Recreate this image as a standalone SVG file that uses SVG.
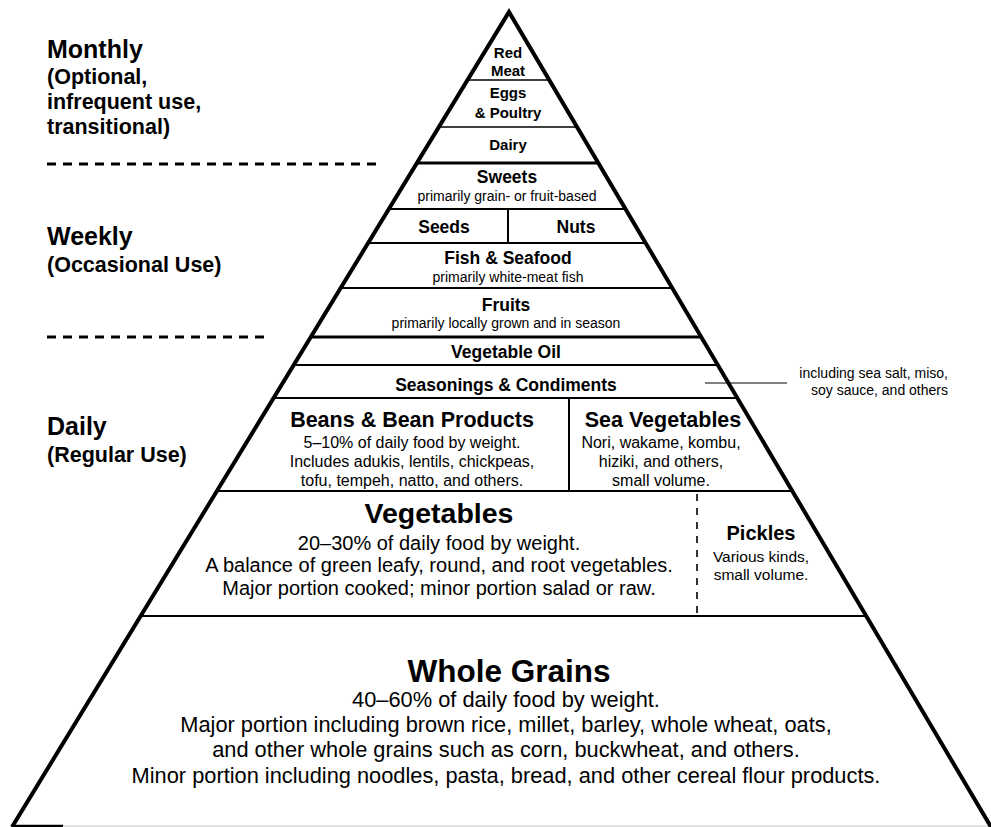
<svg xmlns="http://www.w3.org/2000/svg" width="991" height="827" viewBox="0 0 991 827">
<defs>
<style>
text{font-family:"Liberation Sans",Arial,Helvetica,sans-serif;fill:#000;}
.t{text-anchor:middle;}
.b{font-weight:bold;}
.hd{font-weight:bold;font-size:25px;}
.sub{font-weight:bold;font-size:21.5px;}
.s15{font-size:15px;font-weight:bold;}
.m{font-size:17.5px;font-weight:bold;}
.sm{font-size:14px;}
.l{font-size:21.5px;font-weight:bold;}
.r16{font-size:16px;}
.r20{font-size:20px;}
.r21{font-size:21.8px;}
.edge{stroke:#000;stroke-width:4;fill:none;stroke-linejoin:miter;}
.h1{stroke:#000;stroke-width:1.5;}
.h2{stroke:#000;stroke-width:2;}
.h3{stroke:#000;stroke-width:3.2;}
.sep{stroke:#000;stroke-width:3;stroke-dasharray:9 7;}
</style>
</defs>
<rect width="991" height="827" fill="#fff"/>

<g id="frequency-labels">
<text class="hd" x="47" y="58">Monthly</text>
<text class="sub" x="47" y="84">(Optional,</text>
<text class="sub" x="47" y="109">infrequent use,</text>
<text class="sub" x="47" y="134">transitional)</text>
<line class="sep" x1="47" y1="164" x2="377" y2="164"/>
<text class="hd" x="47" y="245">Weekly</text>
<text class="sub" x="47" y="272">(Occasional Use)</text>
<line class="sep" x1="47" y1="337" x2="265" y2="337"/>
<text class="hd" x="47" y="435">Daily</text>
<text class="sub" x="47" y="462">(Regular Use)</text>
</g>

<g id="pyramid-frame">
<line class="h1" x1="467.5" y1="80" x2="549.2" y2="80"/>
<line class="h1" x1="438.8" y1="127" x2="577" y2="127"/>
<line class="h3" x1="416.8" y1="163" x2="598.3" y2="163"/>
<line class="h2" x1="388.7" y1="209" x2="625.5" y2="209"/>
<line class="h2" x1="368" y1="243" x2="645.6" y2="243"/>
<line class="h2" x1="340.5" y1="288" x2="672.2" y2="288"/>
<line class="h3" x1="310.6" y1="337" x2="701.2" y2="337"/>
<line class="h2" x1="293.5" y1="365" x2="717.8" y2="365"/>
<line class="h2" x1="273.3" y1="398" x2="737.3" y2="398"/>
<line class="h2" x1="216.5" y1="491" x2="792.3" y2="491"/>
<line class="h2" x1="140.2" y1="616" x2="866.2" y2="616"/>
<line class="h2" x1="508" y1="209" x2="508" y2="243"/>
<line class="h2" x1="569" y1="398" x2="569" y2="491"/>
<line stroke="#000" stroke-width="1.6" stroke-dasharray="7 7" x1="697" y1="494" x2="697" y2="614"/>
<line stroke="#000" stroke-width="2.5" x1="12" y1="826" x2="63" y2="826"/>
<line stroke="#c8c8c8" stroke-width="1" x1="63" y1="826" x2="991" y2="826"/>
<polyline class="edge" points="12,827 509,12 991,827"/>
</g>

<g id="red-meat">
<text class="t s15" x="508" y="58">Red</text>
<text class="t s15" x="508" y="76">Meat</text>
</g>
<g id="eggs-poultry">
<text class="t s15" x="508" y="98">Eggs</text>
<text class="t s15" x="508" y="118">&amp; Poultry</text>
</g>
<g id="dairy">
<text class="t s15" x="508" y="150">Dairy</text>
</g>
<g id="sweets">
<text class="t m" x="507" y="183">Sweets</text>
<text class="t sm" x="507" y="201">primarily grain- or fruit-based</text>
</g>
<g id="seeds">
<text class="t m" x="444" y="233">Seeds</text>
</g>
<g id="nuts">
<text class="t m" x="576" y="233">Nuts</text>
</g>
<g id="fish-seafood">
<text class="t m" x="508" y="264">Fish &amp; Seafood</text>
<text class="t sm" x="508" y="282">primarily white-meat fish</text>
</g>
<g id="fruits">
<text class="t m" x="506" y="311">Fruits</text>
<text class="t sm" x="506" y="328">primarily locally grown and in season</text>
</g>
<g id="vegetable-oil">
<text class="t m" x="506" y="358">Vegetable Oil</text>
</g>
<g id="seasonings">
<text class="t m" x="506" y="391">Seasonings &amp; Condiments</text>
</g>
<g id="seasonings-note">
<text text-anchor="end" x="948" y="378" style="font-size:14px">including sea salt, miso,</text>
<text text-anchor="end" x="948" y="395" style="font-size:14px">soy sauce, and others</text>
</g>
<g id="beans">
<text class="t l" x="412" y="427">Beans &amp; Bean Products</text>
<text class="t r16" x="412" y="448">5–10% of daily food by weight.</text>
<text class="t r16" x="412" y="467">Includes adukis, lentils, chickpeas,</text>
<text class="t r16" x="412" y="486">tofu, tempeh, natto, and others.</text>
</g>
<g id="sea-vegetables">
<text class="t l" x="663" y="427">Sea Vegetables</text>
<text class="t r16" x="661" y="448">Nori, wakame, kombu,</text>
<text class="t r16" x="661" y="467">hiziki, and others,</text>
<text class="t r16" x="661" y="486">small volume.</text>
</g>
<g id="vegetables">
<text class="t b" x="439" y="523" style="font-size:28.5px">Vegetables</text>
<text class="t r20" x="439" y="550">20–30% of daily food by weight.</text>
<text class="t r20" x="439" y="572">A balance of green leafy, round, and root vegetables.</text>
<text class="t r20" x="439" y="595">Major portion cooked; minor portion salad or raw.</text>
</g>
<g id="pickles">
<text class="t b" x="761" y="540" style="font-size:20px">Pickles</text>
<text class="t" x="761" y="562" style="font-size:15.5px">Various kinds,</text>
<text class="t" x="761" y="580" style="font-size:15.5px">small volume.</text>
</g>
<g id="whole-grains">
<text class="t b" x="509" y="682" style="font-size:31.5px">Whole Grains</text>
<text class="t r21" x="506" y="707">40–60% of daily food by weight.</text>
<text class="t r21" x="506" y="732">Major portion including brown rice, millet, barley, whole wheat, oats,</text>
<text class="t r21" x="506" y="757">and other whole grains such as corn, buckwheat, and others.</text>
<text class="t r21" x="506" y="783">Minor portion including noodles, pasta, bread, and other cereal flour products.</text>
</g>

<g id="connectors">
<line stroke="#000" stroke-width="1" x1="705" y1="383" x2="787" y2="383"/>
</g>
</svg>
